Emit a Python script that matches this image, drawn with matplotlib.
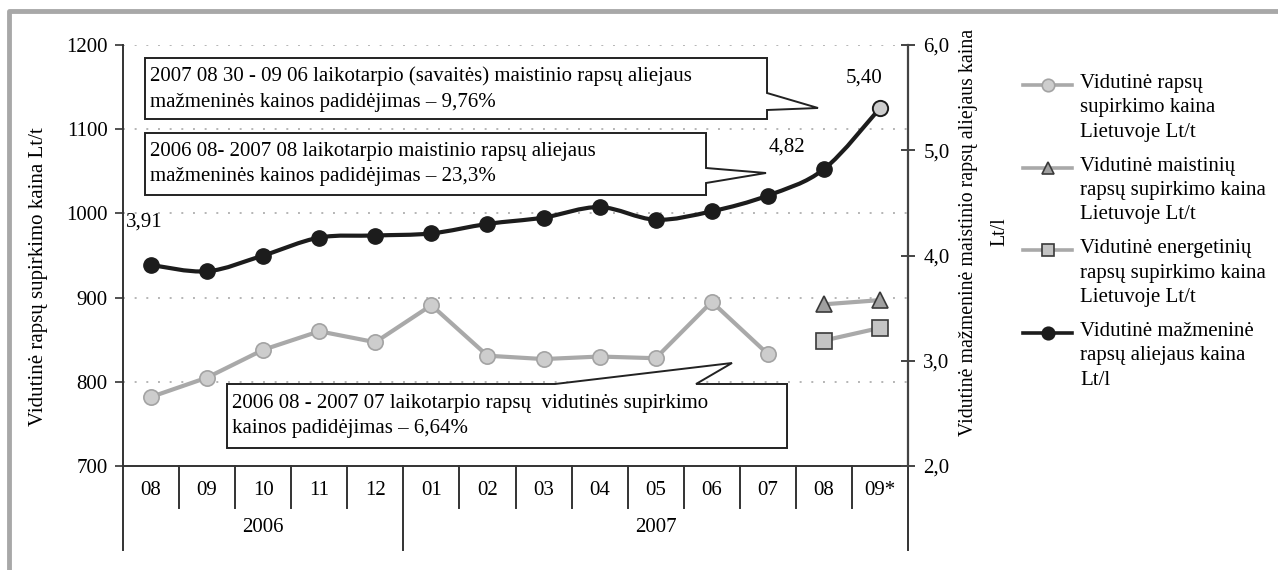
import matplotlib
matplotlib.use('Agg')
import numpy as np
import matplotlib.pyplot as plt
from matplotlib.path import Path
from matplotlib.patches import PathPatch, Polygon
from matplotlib.lines import Line2D

# ---- data ----
months = ['08', '09', '10', '11', '12', '01', '02', '03', '04', '05', '06', '07', '08', '09*']
years = ['2006', '2007']
# average rapeseed purchase price in Lithuania, Lt/t (left axis)
purchase = [782, 805, 838, 860, 847, 891, 831, 827, 830, 828, 895, 833]
# food rapeseed purchase price, Lt/t (2007 08, 09*)
food_price = [892, 897]
# energy rapeseed purchase price, Lt/t (2007 08, 09*)
energy_price = [849, 864]
# average retail rapeseed oil price, Lt/l (right axis)
retail = [3.91, 3.85, 4.00, 4.17, 4.19, 4.21, 4.30, 4.36, 4.46, 4.34, 4.42, 4.57, 4.82, 5.40]
retail_labels = {0: '3,91', 12: '4,82', 13: '5,40'}

legend_labels = [
    'Vidutinė rapsų\nsupirkimo kaina\nLietuvoje Lt/t',
    'Vidutinė maistinių\nrapsų supirkimo kaina\nLietuvoje Lt/t',
    'Vidutinė energetinių\nrapsų supirkimo kaina\nLietuvoje Lt/t',
    'Vidutinė mažmeninė\nrapsų aliejaus kaina\nLt/l',
]
note1 = '2007 08 30 - 09 06 laikotarpio (savaitės) maistinio rapsų aliejaus\nmažmeninės kainos padidėjimas – 9,76%'
note2 = '2006 08- 2007 08 laikotarpio maistinio rapsų aliejaus\nmažmeninės kainos padidėjimas – 23,3%'
note3 = '2006 08 - 2007 07 laikotarpio rapsų  vidutinės supirkimo\nkainos padidėjimas – 6,64%'

plt.rcParams['font.family'] = ['Liberation Serif', 'DejaVu Serif']
FS = 15

W, H = 1278, 570
fig = plt.figure(figsize=(W / 100, H / 100), dpi=100)

def fx(px):
    return px / W

def fy(py):
    return 1 - py / H

ax = fig.add_axes([fx(123), fy(466), fx(908) - fx(123), fy(45) - fy(466)])
ax2 = ax.twinx()

GRAY_LINE = '#a9a9a9'
GRAY_FILL = '#cdcdcd'
DARK = '#1c1c1c'

# left axis
ax.set_xlim(-0.5, 13.5)
ax.set_ylim(700, 1200)
ax.set_yticks([700, 800, 900, 1000, 1100, 1200])
ax.tick_params(axis='y', labelsize=FS, length=6, width=1.2, direction='out', pad=5, color='#333333')
for v in [800, 900, 1000, 1100, 1200]:
    ax.axhline(v, color='#b5b5b5', lw=1.4, ls=(0, (1, 5)), zorder=0)
ax.set_xticks(range(len(months)))
ax.set_xticklabels(months, fontsize=FS)
ax.tick_params(axis='x', length=0, pad=11)
for s in ['top', 'right']:
    ax.spines[s].set_visible(False)
for s in ['left', 'bottom']:
    ax.spines[s].set_linewidth(1.4)
    ax.spines[s].set_color('#333333')

# category separators and years
xt = ax.get_xaxis_transform()
for k in range(1, len(months)):
    depth = -0.2 if k == 5 else -0.1
    ax.add_line(Line2D([k - 0.5, k - 0.5], [0, depth], transform=xt, color='#333333', lw=1.4, clip_on=False))
for k in [-0.5, 13.5]:
    ax.add_line(Line2D([k, k], [0, -0.2], transform=xt, color='#333333', lw=1.4, clip_on=False))
ax.text(2, -0.145, years[0], transform=xt, ha='center', va='center', fontsize=FS)
ax.text(9, -0.145, years[1], transform=xt, ha='center', va='center', fontsize=FS)

fig.text(fx(39), fy(277), 'Vidutinė rapsų supirkimo kaina Lt/t', rotation=90, ha='center', va='center', fontsize=FS)

# purchase price series
x_p = np.arange(len(purchase))
ax.plot(x_p, purchase, color=GRAY_LINE, lw=3, marker='o', ms=11, mfc=GRAY_FILL, mec='#a3a3a3', mew=1.2, zorder=3)
x_f = np.array([12, 13])
ax.plot(x_f, food_price, color=GRAY_LINE, lw=3, marker='^', ms=11, mfc='#a0a0a0', mec='#3a3a3a', mew=1.2, zorder=3)
ax.plot(x_f, energy_price, color=GRAY_LINE, lw=3, marker='s', ms=11, mfc='#c4c4c4', mec='#3a3a3a', mew=1.2, zorder=3)

# right axis
ax2.set_ylim(2, 6)
ax2.set_yticks([2, 3, 4, 5, 6])
ax2.set_yticklabels(['2,0', '3,0', '4,0', '5,0', '6,0'], fontsize=FS)
ax2.tick_params(axis='y', length=10, width=1.4, direction='inout', pad=6, color='#444444')
for s in ['top', 'left', 'bottom']:
    ax2.spines[s].set_visible(False)
ax2.spines['right'].set_linewidth(1.6)
ax2.spines['right'].set_color('#444444')
fig.text(fx(984), fy(232), 'Vidutinė mažmeninė maistinio rapsų aliejaus kaina\nLt/l',
         rotation=90, ha='center', va='center', fontsize=14.3, multialignment='center', linespacing=1.85)

# smoothed retail line (Catmull-Rom as Bezier path)
xr = np.arange(len(retail), dtype=float)
yr = np.array(retail)
verts = [(xr[0], yr[0])]
codes = [Path.MOVETO]
for i in range(len(xr) - 1):
    p0 = np.array([xr[max(i - 1, 0)], yr[max(i - 1, 0)]])
    p1 = np.array([xr[i], yr[i]])
    p2 = np.array([xr[i + 1], yr[i + 1]])
    p3 = np.array([xr[min(i + 2, len(xr) - 1)], yr[min(i + 2, len(xr) - 1)]])
    c1 = p1 + (p2 - p0) / 6
    c2 = p2 - (p3 - p1) / 6
    verts += [tuple(c1), tuple(c2), tuple(p2)]
    codes += [Path.CURVE4] * 3
ax2.add_patch(PathPatch(Path(verts, codes), fill=False, ec=DARK, lw=3, zorder=3))
ax2.plot(xr[:-1], yr[:-1], ls='none', marker='o', ms=11, mfc=DARK, mec=DARK, zorder=4)
ax2.plot(xr[-1:], yr[-1:], ls='none', marker='o', ms=11, mfc=GRAY_FILL, mec=DARK, mew=1.4, zorder=4)
offs = {0: (-0.12, 0.41), 12: (-0.66, 0.21), 13: (-0.29, 0.29)}
for i, lab in retail_labels.items():
    ax2.text(xr[i] + offs[i][0], yr[i] + offs[i][1], lab, ha='center', va='center', fontsize=FS)

# callout boxes (pixel layout mapped to left-axis data coords)
def dx(px):
    return (px - 123) / 56.07 - 0.5

def dy(py):
    return 1200 - (py - 45) / 0.842

def callout(pts, text, tx, ty):
    poly = Polygon([(dx(a), dy(b)) for a, b in pts], closed=True, fc='white', ec='#222222', lw=1.4,
                   transform=ax.transData, zorder=10)
    ax2.add_patch(poly)
    ax2.text(dx(tx), dy(ty), text, transform=ax.transData, ha='left', va='center', fontsize=FS,
             linespacing=1.45, zorder=11)

callout([(145, 58), (767, 58), (767, 93), (818, 108), (767, 110), (767, 119), (145, 119)], note1, 150, 89)
callout([(145, 133), (706, 133), (706, 168), (766, 173), (706, 183), (706, 195), (145, 195)], note2, 150, 164)
callout([(227, 384), (555, 384), (732, 363), (696, 384), (787, 384), (787, 448), (227, 448)], note3, 232, 416)

# legend drawn by hand
styles = [
    dict(color=GRAY_LINE, marker='o', mfc=GRAY_FILL, mec='#a3a3a3'),
    dict(color=GRAY_LINE, marker='^', mfc='#a0a0a0', mec='#3a3a3a'),
    dict(color=GRAY_LINE, marker='s', mfc='#c4c4c4', mec='#3a3a3a'),
    dict(color=DARK, marker='o', mfc=DARK, mec=DARK),
]
for i, (lab, st) in enumerate(zip(legend_labels, styles)):
    y0 = 85 + i * 82.7
    fig.add_artist(Line2D([fx(1023), fx(1048), fx(1072)], [fy(y0)] * 3, lw=2.6, ms=9, mew=1.2,
                          markevery=[1], transform=fig.transFigure, **st))
    fig.text(fx(1080), fy(y0 - 11), lab, ha='left', va='top', fontsize=FS, linespacing=1.38)

# outer gray frame (top and left only)
fig.add_artist(Line2D([fx(9), fx(9), fx(W)], [0, fy(11), fy(11)], color='#a8a8a8', lw=3.5,
                      transform=fig.transFigure))

fig.savefig('out.png', dpi=100)
